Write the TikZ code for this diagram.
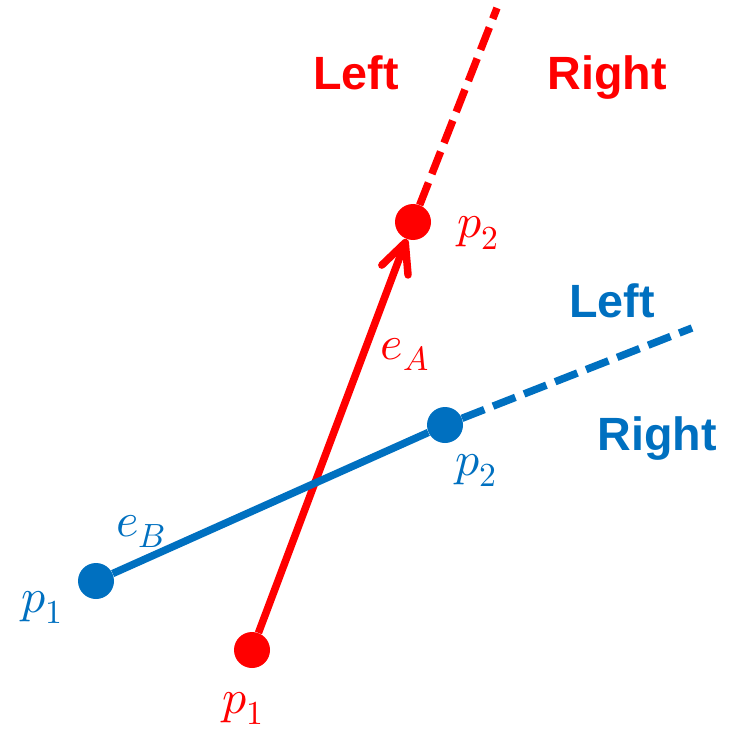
\documentclass[tikz,border=0pt]{standalone}
\usepackage{fontspec}
\usepackage{unicode-math}
\setsansfont{Liberation Sans}
\setmathfont{Latin Modern Math}
\usetikzlibrary{arrows.meta}
\definecolor{edgeA}{RGB}{255,0,0}
\definecolor{edgeB}{RGB}{0,112,192}
\tikzset{
  dot/.style={circle, fill, inner sep=0pt, minimum size=27pt},
  side/.style={font=\sffamily\bfseries\fontsize{35}{40}\selectfont, anchor=base, inner sep=0pt},
  lbl/.style={font=\fontsize{36}{40}\selectfont, anchor=base, inner sep=0pt},
  seg/.style={line width=5.6pt},
  ext/.style={line width=5.6pt, dash pattern=on 18pt off 7pt}
}

\begin{document}
\begin{tikzpicture}[x=0.75pt, y=-0.75pt]
\useasboundingbox (0,0) rectangle (730,734);
% edge A
\node[dot, edgeA] (ap1) at (252,650) {};
\node[dot, edgeA] (ap2) at (413,222) {};
\coordinate (aend) at (497,8);
\draw[seg, edgeA, -{Straight Barb[length=22pt, width=21pt, round]}] (ap1) -- (ap2);
\draw[ext, edgeA] (ap2) -- (aend);
\node[lbl, text=edgeA] (ap1lbl) at (243,713) {$p_1$};
\node[lbl, text=edgeA] (ap2lbl) at (478,238) {$p_2$};
\node[lbl, text=edgeA] (albl) at (405,359) {$e_A$};
\node[side, text=edgeA] (aleft) at (356,90) {Left};
\node[side, text=edgeA] (aright) at (607,90) {Right};
% edge B
\node[dot, edgeB] (bp1) at (96,581) {};
\node[dot, edgeB] (bp2) at (445,425) {};
\coordinate (bend) at (692,328);
\draw[seg, edgeB] (bp1) -- (bp2);
\draw[ext, edgeB] (bp2) -- (bend);
\node[lbl, text=edgeB] (bp1lbl) at (42,612) {$p_1$};
\node[lbl, text=edgeB] (bp2lbl) at (476,475) {$p_2$};
\node[lbl, text=edgeB] (blbl) at (141,536) {$e_B$};
\node[side, text=edgeB] (bleft) at (612,317) {Left};
\node[side, text=edgeB] (bright) at (657,450) {Right};
\end{tikzpicture}
\end{document}
